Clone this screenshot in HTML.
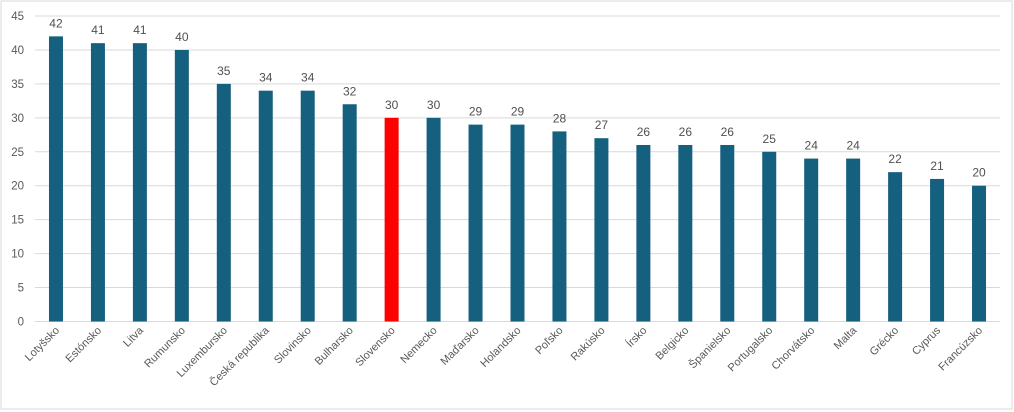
<!DOCTYPE html>
<html><head><meta charset="utf-8"><style>
html,body{margin:0;padding:0;background:#fff;}
svg{display:block;font-family:"Liberation Sans",sans-serif;}
</style></head><body>
<svg id="chart" width="1014" height="412">
<rect x="1" y="1" width="1011" height="408" fill="#fff" stroke="#d9d9d9"/>
<g id="grid"></g><g id="bars"></g><g id="labels"></g>
</svg>
<script>
const categories=["Lotyšsko","Estónsko","Litva","Rumunsko","Luxembursko","Česká republika","Slovinsko","Bulharsko","Slovensko","Nemecko","Maďarsko","Holandsko","Poľsko","Rakúsko","Írsko","Belgicko","Španielsko","Portugalsko","Chorvátsko","Malta","Grécko","Cyprus","Francúzsko"];
const values=[42,41,41,40,35,34,34,32,30,30,29,29,28,27,26,26,26,25,24,24,22,21,20];
const yTicks=[0,5,10,15,20,25,30,35,40,45];
const highlight="Slovensko";
const NS="http://www.w3.org/2000/svg";
const x0=35,x1=1000,yTop=16,yBot=321.5,yMax=45;
const band=(x1-x0)/categories.length;
const y=v=>yBot-(v/yMax)*(yBot-yTop);
const xc=i=>x0+band*(i+0.5);
function mk(t,a,p){const e=document.createElementNS(NS,t);for(const k in a)e.setAttribute(k,a[k]);p.appendChild(e);return e;}
const grid=document.getElementById('grid'),bars=document.getElementById('bars'),labels=document.getElementById('labels');
yTicks.forEach(t=>{
 const l=mk('line',{x1:x0,x2:x1,y1:y(t),y2:y(t),stroke:'#d9d9d9','stroke-width':1},grid);
 
 
 const tx=mk('text',{x:24,y:y(t)+4,'text-anchor':'end','font-size':11.5,fill:'#595959'},grid);
 tx.textContent=t;
 
 
});
categories.forEach((c,i)=>{
 const v=values[i],w=14;
 const r=mk('rect',{x:xc(i)-w/2,y:y(v),width:w,height:yBot-y(v),fill:c===highlight?'#ff0000':'#155f7f'},bars);
 
 
 const vl=mk('text',{x:xc(i),y:y(v)-9,'text-anchor':'middle','font-size':12,fill:'#505050'},labels);
 vl.textContent=v;
 
 
 const cx=xc(i)+4,cy=331;
 const cl=mk('text',{x:cx,y:cy,'text-anchor':'end','font-size':11,fill:'#595959',transform:`rotate(-45 ${cx} ${cy})`},labels);
 cl.textContent=c;
 
 
});
</script>
</body></html>
